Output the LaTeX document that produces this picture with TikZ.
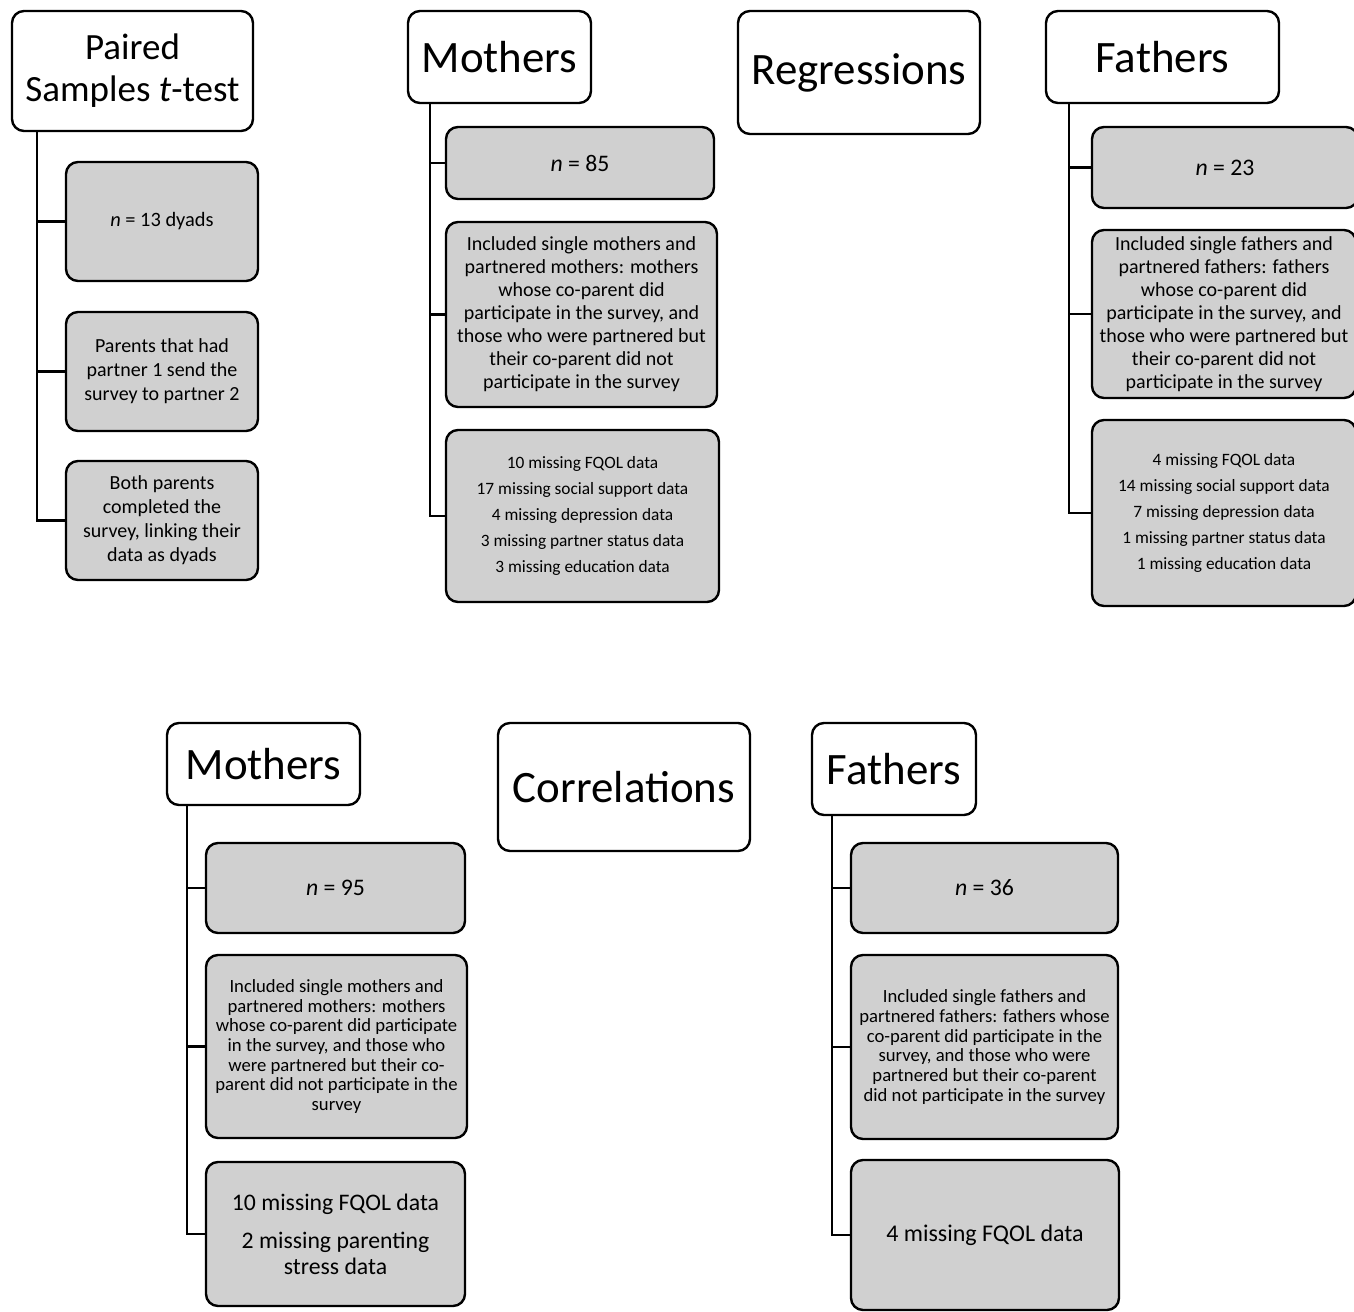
\documentclass[tikz,border=0pt]{standalone}
\usepackage{fontspec}
\setmainfont{Carlito}
\definecolor{boxgray}{RGB}{208,208,208}
\tikzset{
  basebox/.style={draw, line width=1.8pt, rounded corners=9pt, inner sep=0pt, outer sep=0pt, align=center, anchor=center},
  hd/.style={basebox, fill=white, font=\fontsize{33.7}{40}\selectfont},
  gbox/.style={basebox, fill=boxgray, font=\fontsize{15}{18}\selectfont},
  nbox/.style={gbox, font=\fontsize{17.8}{21}\selectfont},
  conn/.style={line width=1.8pt},
  sz/.style 2 args={minimum width=#1, minimum height=#2},
}
\begin{document}
\begin{tikzpicture}[x=0.75pt,y=-0.75pt]
\useasboundingbox (0,0) rectangle (1354,1312);
\clip (0,0) rectangle (1354,1312);

% ---------- Paired samples t-test ----------
\node[hd, font=\fontsize{27.75}{31.5}\selectfont, sz={180.75pt}{90pt}] (paired) at (132.5,71) {Paired\\Samples \textit{t}-test};
\node[gbox, font=\fontsize{15.3}{18}\selectfont, sz={144pt}{89.25pt}] (pb1) at (162,221.5) {\textit{n} = 13 dyads};
\node[gbox, sz={144pt}{89.25pt}] (pb2) at (162,371.5) {Parents that had\\partner 1 send the\\survey to partner 2};
\node[gbox, sz={144pt}{89.25pt}] (pb3) at (162,520.5) {Both parents\\completed the\\survey, linking their\\data as dyads};
\coordinate (pv) at ([xshift=18.75pt]paired.south west);
\draw[conn] (pv) |- (pb3.west) (pv |- pb1.west) -- (pb1.west) (pv |- pb2.west) -- (pb2.west);

% ---------- Regressions: mothers ----------
\node[hd, sz={137.25pt}{69pt}] (rm) at (499.5,57) {Mothers};
\node[nbox, sz={201pt}{54pt}] (mb1) at (580,163) {\textit{n} = 85};
\node[gbox, font=\fontsize{15}{17.25}\selectfont, sz={203.25pt}{138.75pt}] (mb2) at (581.5,314.5) {Included single mothers and\\partnered mothers: mothers\\whose co-parent did\\participate in the survey, and\\those who were partnered but\\their co-parent did not\\participate in the survey};
\node[gbox, font=\fontsize{13}{19.5}\selectfont, sz={204.75pt}{129pt}] (mb3) at (582.5,516) {10 missing FQOL data\\17 missing social support data\\4 missing depression data\\3 missing partner status data\\3 missing education data};
\coordinate (mv) at ([xshift=16.5pt]rm.south west);
\draw[conn] (mv) |- (mb3.west) (mv |- mb1.west) -- (mb1.west) (mv |- mb2.west) -- (mb2.west);

% ---------- Regressions ----------
\node[hd, sz={181.5pt}{92.25pt}] (reg) at (859,72.5) {Regressions};

% ---------- Regressions: fathers ----------
\node[hd, sz={174.75pt}{69pt}] (rf) at (1162.5,57) {Fathers};
\node[nbox, sz={199.5pt}{60.75pt}] (fb1) at (1225,167.5) {\textit{n} = 23};
\node[gbox, font=\fontsize{15}{17.25}\selectfont, sz={198pt}{126pt}] (fb2) at (1224,314) {Included single fathers and\\partnered fathers: fathers\\whose co-parent did\\participate in the survey, and\\those who were partnered but\\their co-parent did not\\participate in the survey};
\node[gbox, font=\fontsize{13}{19.5}\selectfont, sz={198pt}{139.5pt}] (fb3) at (1224,513) {4 missing FQOL data\\14 missing social support data\\7 missing depression data\\1 missing partner status data\\1 missing education data};
\coordinate (fv) at ([xshift=17.25pt]rf.south west);
\draw[conn] (fv) |- (fb3.west) (fv |- fb1.west) -- (fb1.west) (fv |- fb2.west) -- (fb2.west);

% ---------- Correlations: mothers ----------
\node[hd, sz={144.75pt}{61.5pt}] (cm) at (263.5,764) {Mothers};
\node[nbox, sz={194.25pt}{67.5pt}] (bm1) at (335.5,888) {\textit{n} = 95};
\node[gbox, font=\fontsize{14}{14.8}\selectfont, sz={195.75pt}{137.25pt}] (bm2) at (336.5,1046.5) {Included single mothers and\\partnered mothers: mothers\\whose co-parent did participate\\in the survey, and those who\\were partnered but their co-\\parent did not participate in the\\survey};
\node[gbox, font=\fontsize{17.8}{19.5}\selectfont, sz={194.25pt}{108pt}] (bm3) at (335.5,1234) {10 missing FQOL data\\[9pt]2 missing parenting\\stress data};
\coordinate (cmv) at ([xshift=15pt]cm.south west);
\draw[conn] (cmv) |- (bm3.west) (cmv |- bm1.west) -- (bm1.west) (cmv |- bm2.west) -- (bm2.west);

% ---------- Correlations ----------
\node[hd, sz={189pt}{96pt}] (cor) at (624,787) {Correlations};

% ---------- Correlations: fathers ----------
\node[hd, sz={123pt}{69pt}] (cf) at (894,769) {Fathers};
\node[nbox, sz={200.25pt}{67.5pt}] (bf1) at (984.5,888) {\textit{n} = 36};
\node[gbox, font=\fontsize{14}{14.8}\selectfont, sz={200.25pt}{138pt}] (bf2) at (984.5,1047) {Included single fathers and\\partnered fathers: fathers whose\\co-parent did participate in the\\survey, and those who were\\partnered but their co-parent\\did not participate in the survey};
\node[gbox, font=\fontsize{18}{21}\selectfont, sz={201pt}{112.5pt}] (bf3) at (985,1235) {4 missing FQOL data};
\coordinate (cfv) at ([xshift=15pt]cf.south west);
\draw[conn] (cfv) |- (bf3.west) (cfv |- bf1.west) -- (bf1.west) (cfv |- bf2.west) -- (bf2.west);
\end{tikzpicture}
\end{document}
